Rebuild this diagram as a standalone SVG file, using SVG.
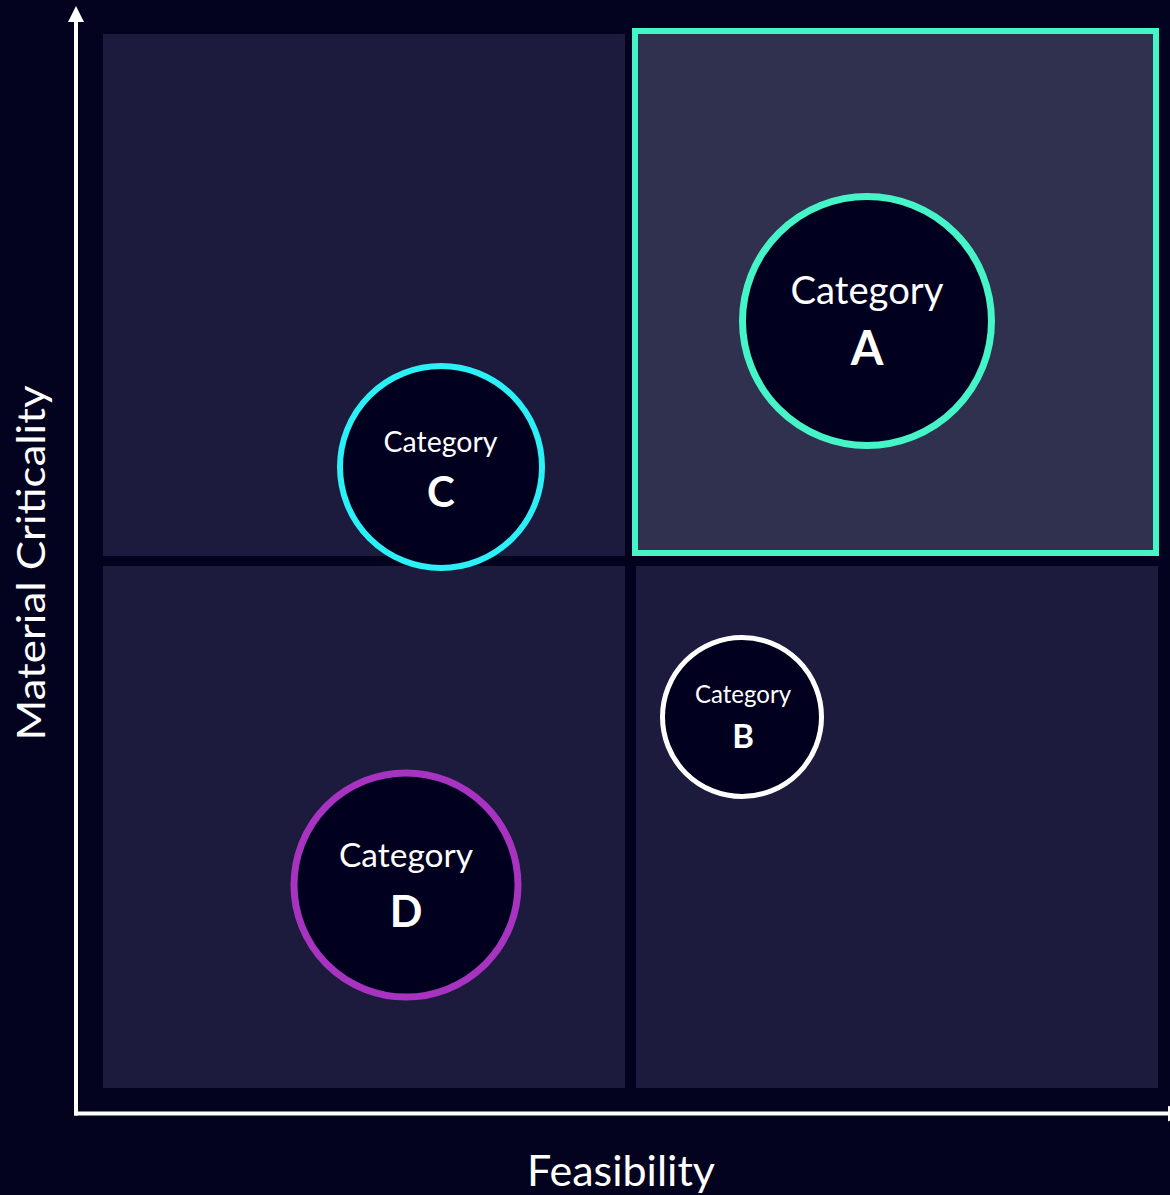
<svg xmlns="http://www.w3.org/2000/svg" width="1170" height="1195" viewBox="0 0 1170 1195">
  <style>
    .quad { fill: #1c1b3d; }
    .quad-hi { fill: #30304f; stroke: #45f5c8; stroke-width: 6; }
    .axis { stroke: #ffffff; stroke-width: 4; fill: none; }
    .bubble { fill: #02001f; }
    .lbl { font-family: Lato, "Open Sans", "Liberation Sans", sans-serif; fill: #ffffff; text-anchor: middle; }
    .big { font-weight: bold; }
  </style>
  <defs>
    <marker id="arrow" viewBox="0 0 16 16" refX="0" refY="8" markerWidth="16" markerHeight="16" markerUnits="userSpaceOnUse" orient="auto">
      <path d="M0,0 L16,8 L0,16 z" fill="#ffffff"/>
    </marker>
  </defs>
  <rect x="0" y="0" width="1170" height="1195" fill="#03021f"/>

  <g id="quadrants">
    <rect id="q-top-left" class="quad" x="103" y="34" width="522" height="522"/>
    <rect id="q-bottom-left" class="quad" x="103" y="566" width="522" height="522"/>
    <rect id="q-bottom-right" class="quad" x="636" y="566" width="522" height="522"/>
    <rect id="q-top-right" class="quad-hi" x="635" y="31" width="521" height="522"/>
  </g>

  <g id="connectors">
    <line class="axis" x1="76" y1="1115.5" x2="76" y2="22" marker-end="url(#arrow)"/>
    <line class="axis" x1="74" y1="1113.5" x2="1168" y2="1113.5" marker-end="url(#arrow)"/>
  </g>

  <g id="axis-y-label">
    <text class="lbl" transform="translate(45,563) rotate(-90)" font-size="39" textLength="355" lengthAdjust="spacingAndGlyphs">Material Criticality</text>
  </g>
  <g id="axis-x-label">
    <text class="lbl" x="621" y="1186" font-size="43" textLength="188" lengthAdjust="spacingAndGlyphs">Feasibility</text>
  </g>

  <g id="category-a">
    <circle class="bubble" cx="867" cy="321" r="124.5" stroke="#45f5c8" stroke-width="7"/>
    <text class="lbl" x="867" y="304" font-size="38" textLength="153" lengthAdjust="spacingAndGlyphs">Category</text>
    <text class="lbl big" x="867" y="365" font-size="47">A</text>
  </g>

  <g id="category-c">
    <circle class="bubble" cx="441" cy="467" r="101" stroke="#2bf1f6" stroke-width="6"/>
    <text class="lbl" x="440.5" y="452" font-size="29" textLength="114" lengthAdjust="spacingAndGlyphs">Category</text>
    <text class="lbl big" x="441" y="507" font-size="42">C</text>
  </g>

  <g id="category-b">
    <circle class="bubble" cx="742" cy="717" r="79.5" stroke="#ffffff" stroke-width="5"/>
    <text class="lbl" x="743" y="703" font-size="25" textLength="96" lengthAdjust="spacingAndGlyphs">Category</text>
    <text class="lbl big" x="743" y="748" font-size="33">B</text>
  </g>

  <g id="category-d">
    <circle class="bubble" cx="406" cy="885" r="112" stroke="#a733c0" stroke-width="7"/>
    <text class="lbl" x="406" y="867" font-size="33" textLength="134" lengthAdjust="spacingAndGlyphs">Category</text>
    <text class="lbl big" x="406" y="927" font-size="43">D</text>
  </g>
</svg>
